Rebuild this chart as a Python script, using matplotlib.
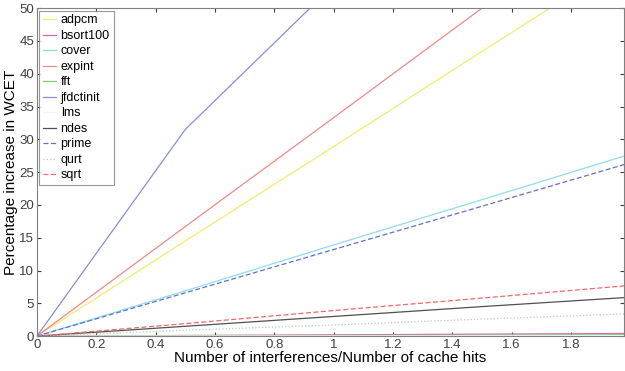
import matplotlib
matplotlib.use("Agg")
import matplotlib.pyplot as plt
import numpy as np

plt.rcParams['font.family'] = ['Liberation Sans', 'DejaVu Sans']

# x = interferences / cache hits
x = [0, 0.5, 1.0, 1.5, 1.99]

adpcm = [0, 14.5, 28.9, 43.4, 57.5]
bsort100 = [0, 0.1, 0.2, 0.3, 0.4]
cover = [0, 6.9, 13.9, 20.8, 27.6]
expint = [0, 16.7, 33.3, 50.0, 66.3]
fft = [0, 0.05, 0.1, 0.15, 0.2]
jfdctinit = [0, 31.5, 53.5, 75.5, 97.0]
lms = [0, 0.02, 0.04, 0.06, 0.08]
ndes = [0, 1.5, 3.0, 4.5, 5.9]
prime = [0, 6.6, 13.2, 19.8, 26.3]
qurt = [0, 0.9, 1.7, 2.6, 3.4]
sqrt = [0, 1.9, 3.9, 5.8, 7.7]

fig = plt.figure(figsize=(6.25, 3.71), dpi=100)
ax = fig.add_axes([0.059, 0.094, 0.94, 0.884])

ax.plot(x, adpcm, color='#f2ea70', lw=0.9, label='adpcm')
ax.plot(x, bsort100, color='#d068b0', lw=0.9, label='bsort100')
ax.plot(x, cover, color='#90dcea', lw=0.9, label='cover')
ax.plot(x, expint, color='#f08888', lw=0.9, label='expint')
ax.plot(x, fft, color='#80cc70', lw=0.9, label='fft')
ax.plot(x, jfdctinit, color='#8c8cd8', lw=0.9, label='jfdctinit')
ax.plot(x, lms, color='#f4f4f4', lw=0.9, label='lms')
ax.plot(x, ndes, color='#505050', lw=0.9, label='ndes')
ax.plot(x, prime, color='#6070d0', lw=0.9, ls=(0, (4, 2)), label='prime')
ax.plot(x, qurt, color='#b8ccb8', lw=0.9, ls=':', label='qurt')
ax.plot(x, sqrt, color='#f06868', lw=0.9, ls=(0, (4, 2)), label='sqrt')

ax.set_xlim(0, 1.98)
ax.set_ylim(0, 50)
ax.set_xticks([0, 0.2, 0.4, 0.6, 0.8, 1.0, 1.2, 1.4, 1.6, 1.8])
ax.set_xticklabels(['0', '0.2', '0.4', '0.6', '0.8', '1', '1.2', '1.4', '1.6', '1.8'])
ax.set_yticks(np.arange(0, 51, 5))
ax.tick_params(direction='in', top=True, right=True, labelsize=9.5, length=3, pad=2, colors='#404040')
for s in ax.spines.values():
    s.set_color('#808080')

ax.set_xlabel('Number of interferences/Number of cache hits', fontsize=11, labelpad=0)
ax.set_ylabel('Percentage increase in WCET', fontsize=11, labelpad=1)

leg = ax.legend(loc='upper left', fontsize=9, handlelength=1.0, handletextpad=0.4,
                labelspacing=0.28, borderpad=0.3, borderaxespad=0.2, fancybox=False)
leg.get_frame().set_edgecolor('#808080')
leg.get_frame().set_linewidth(0.8)

fig.savefig('out.png', dpi=100)
